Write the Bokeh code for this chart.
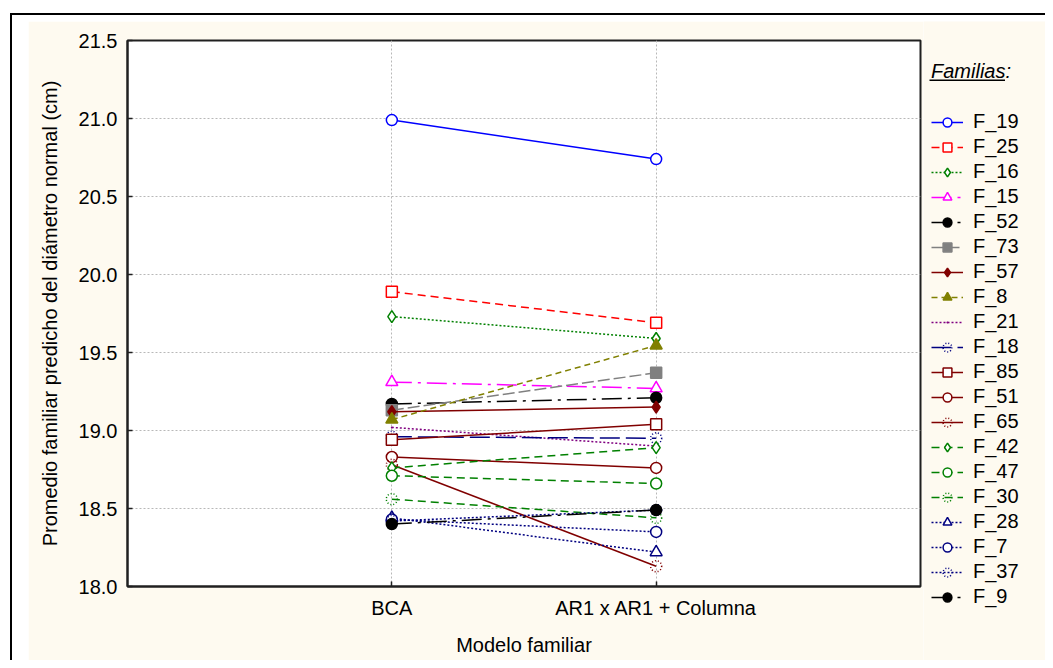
from bokeh.plotting import figure
from bokeh.models import Range1d, FixedTicker, NumeralTickFormatter, Legend, LegendItem
from bokeh.layouts import row, column
from bokeh.embed import file_html
from bokeh.resources import INLINE

# ---- data ----
models = ["BCA", "AR1 x AR1 + Columna"]
families = ["F_19", "F_25", "F_16", "F_15", "F_52", "F_73", "F_57", "F_8", "F_21", "F_18",
            "F_85", "F_51", "F_65", "F_42", "F_47", "F_30", "F_28", "F_7", "F_37", "F_9"]
bca = [20.99, 19.89, 19.73, 19.31, 19.17, 19.13, 19.12, 19.07, 19.02, 18.96,
       18.94, 18.83, 18.78, 18.76, 18.71, 18.56, 18.44, 18.43, 18.42, 18.40]
ar1 = [20.74, 19.69, 19.59, 19.27, 19.21, 19.37, 19.15, 19.545, 18.90, 18.95,
       19.04, 18.76, 18.13, 18.89, 18.66, 18.44, 18.22, 18.35, 18.49, 18.49]
y_ticks = [18.0, 18.5, 19.0, 19.5, 20.0, 20.5, 21.0, 21.5]

# ---- styles: colour, dash, marker, filled ----
BLUE, RED, GREEN, MAG, BLK, GREY = "#0000FF", "#FF0000", "#008000", "#FF00FF", "#000000", "#808080"
DRED, OLIVE, PURP, NAVY = "#800000", "#808000", "#800080", "#000080"
LDD = "20 6 3 6"
styles = {
    "F_19": (BLUE, "solid", "circle", False),
    "F_25": (RED, "8 5", "square", False),
    "F_16": (GREEN, "2 2", "diamond", False),
    "F_15": (MAG, LDD, "triangle", False),
    "F_52": (BLK, LDD, "circle", True),
    "F_73": (GREY, "12 4", "square", True),
    "F_57": (DRED, "solid", "diamond", True),
    "F_8": (OLIVE, "6 4", "triangle", True),
    "F_21": (PURP, "2 2", "dot", False),
    "F_18": (NAVY, "20 6", "spark", False),
    "F_85": (DRED, "solid", "square", False),
    "F_51": (DRED, "solid", "circle", False),
    "F_65": (DRED, "solid", "spark", False),
    "F_42": (GREEN, "8 5", "diamond", False),
    "F_47": (GREEN, "8 5", "circle", False),
    "F_30": (GREEN, "8 5", "spark", False),
    "F_28": (NAVY, "2 2", "triangle", False),
    "F_7": (NAVY, "2 2", "circle", False),
    "F_37": (NAVY, "2 2", "spark", False),
    "F_9": (BLK, LDD, "circle", True),
}
sizes = {"circle": 11, "square": 11, "diamond": 12, "triangle": 12, "spark": 11, "dot": 8}

CREAM = "#FEFAF0"
FONT = "Liberation Sans"

# ---- main chart ----
p = figure(width=895, height=639, output_backend="svg", toolbar_location=None,
           x_range=Range1d(0, 3), y_range=Range1d(18.0, 21.5),
           background_fill_color="white", border_fill_color=CREAM,
           min_border_left=99, min_border_top=19, min_border_right=3, min_border_bottom=74)
p.outline_line_color = "#202020"
p.outline_line_width = 2

# ---- legend panel: a second, axis-less figure whose view shows none of the data ----
q = figure(width=122, height=639, output_backend="svg", toolbar_location=None,
           x_range=Range1d(-10, -9), y_range=Range1d(0, 1),
           x_axis_type=None, y_axis_type=None,
           background_fill_color=CREAM, border_fill_color=CREAM,
           min_border_left=0, min_border_right=0, min_border_top=0, min_border_bottom=0)
q.outline_line_color = None


def style_kwargs(fam):
    col, dash, mk, filled = styles[fam]
    line_kw = dict(line_color=col, line_dash=dash, line_width=1.5)
    if mk == "spark":
        sc_kw = dict(marker="circle", size=sizes[mk], line_color=col, line_dash="1 2",
                     line_width=1.5, fill_color=None)
    else:
        sc_kw = dict(marker=mk, size=sizes[mk], line_color=col, line_width=1.5,
                     fill_color=col if filled else "white")
    return line_kw, sc_kw


xs = [i + 1 for i in range(len(models))]

items = []
for fam, yb, ya in zip(families, bca, ar1):
    line_kw, sc_kw = style_kwargs(fam)
    p.line(x=xs, y=[yb, ya], **line_kw)
    p.scatter(x=xs, y=[yb, ya], **sc_kw)
    # same series in the legend panel (outside its view) so the legend can show their glyphs
    lr = q.line(x=xs, y=[yb, ya], **line_kw)
    sr = q.scatter(x=xs, y=[yb, ya], **sc_kw)
    items.append(LegendItem(label=fam, renderers=[lr, sr]))

# axes
p.xaxis.ticker = FixedTicker(ticks=xs)
p.xaxis.major_label_overrides = {x: m for x, m in zip(xs, models)}
p.yaxis.ticker = FixedTicker(ticks=y_ticks)
p.yaxis.formatter = NumeralTickFormatter(format="0.0")
for ax in (p.xaxis[0], p.yaxis[0]):
    ax.axis_line_color = "#202020"
    ax.axis_line_width = 2
    ax.major_tick_in = 5
    ax.major_tick_out = 0
    ax.major_tick_line_color = "#202020"
    ax.major_tick_line_width = 1.5
    ax.minor_tick_line_color = None
    ax.major_label_text_font = FONT
    ax.major_label_text_font_size = "20px"
    ax.major_label_text_color = "#000000"
    ax.axis_label_text_font = FONT
    ax.axis_label_text_font_size = "20px"
    ax.axis_label_text_font_style = "normal"
    ax.axis_label_text_color = "#000000"
p.xaxis.axis_label = "Modelo familiar"
p.yaxis.axis_label = "Promedio familiar predicho del diámetro normal (cm)"
p.xaxis.major_label_standoff = 10
p.yaxis.major_label_standoff = 10
p.xaxis.axis_label_standoff = 12
p.yaxis.axis_label_standoff = 15

p.xgrid.ticker = FixedTicker(ticks=xs)
p.ygrid.ticker = FixedTicker(ticks=y_ticks)
for g in (p.xgrid[0], p.ygrid[0]):
    g.grid_line_color = "#B8B8B8"
    g.grid_line_dash = "2 2"
    g.grid_line_width = 1

legend = Legend(items=items, location=(8, 52), title="Familias:",
                title_text_font=FONT, title_text_font_size="20px", title_text_font_style="italic",
                title_text_color="#000000",
                title_standoff=27, label_text_font=FONT, label_text_font_size="20px",
                label_text_color="#000000",
                glyph_width=32, glyph_height=22, label_height=22, label_standoff=10,
                spacing=2, padding=0, margin=0, background_fill_alpha=0, border_line_alpha=0)
q.add_layout(legend, "center")

# underline of the legend title, drawn as a legend glyph
ul = q.line(x=xs, y=[bca[0], ar1[0]], line_color="black", line_width=2)
underline = Legend(items=[LegendItem(label="", renderers=[ul])], location=(6, 579),
                   glyph_width=76, glyph_height=2, label_height=1, label_standoff=0,
                   label_text_font_size="1px", spacing=0, padding=0, margin=0,
                   background_fill_alpha=0, border_line_alpha=0)
q.add_layout(underline, "center")

layout = row(p, column(q), spacing=0,
             styles={"border-top": "2px solid black", "border-left": "2px solid black",
                     "padding-top": "6px", "padding-left": "16px", "margin-left": "10px",
                     "margin-top": "13px", "background-color": "white"})

open("out.html", "w").write(file_html(layout, INLINE))
